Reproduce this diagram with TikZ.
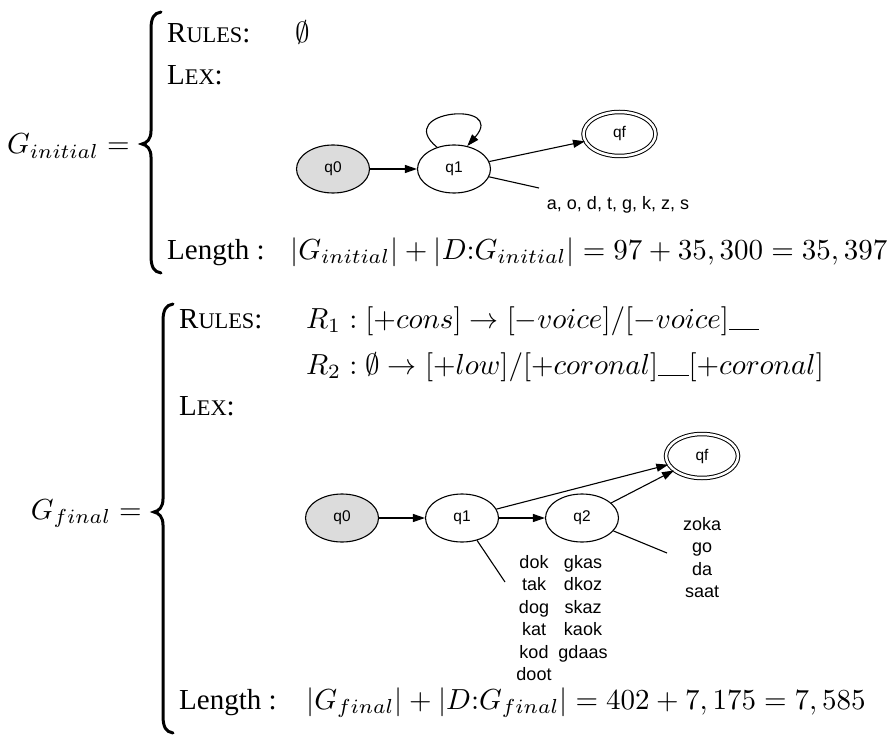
\documentclass[tikz,border=0pt]{standalone}
\usepackage[no-math]{fontspec}
\setmainfont{Liberation Serif}
\newfontfamily\sansf{Liberation Sans}
\usetikzlibrary{arrows.meta,shapes.geometric}
\definecolor{startgray}{HTML}{DCDCDC}
\newcommand\smcap{\fontsize{7.7}{9}\selectfont}
\newcommand\bigt[1]{\scalebox{2.9}{\fontsize{10}{12}\selectfont #1}}
\newcommand\blank{\rule[-0.6pt]{10.5pt}{0.4pt}}
\tikzset{
 txt/.style={anchor=base west, inner sep=0pt},
 lhs/.style={anchor=base east, inner sep=0pt},
 state/.style={ellipse, draw, line width=1.1pt, minimum width=73pt, minimum height=48pt, inner sep=0pt, font=\sansf\fontsize{15.5}{18}\selectfont},
 startstate/.style={state, fill=startgray},
 acceptstate/.style={state, double, double distance=2.5pt, line width=1pt, minimum width=72pt, minimum height=44pt},
 edge/.style={-{Triangle[length=12pt,width=8pt]}, line width=1.1pt},
 labline/.style={line width=1.1pt},
 words/.style={font=\sansf\fontsize{18}{22.5}\selectfont, align=center, inner sep=0pt},
 bracepath/.style={line width=3pt, line cap=round},
}
\begin{document}
\begin{tikzpicture}[x=1pt,y=-1pt]
\useasboundingbox (0,0) rectangle (893,735);
% ---------- block 1 ----------
\node[lhs] (g1) at (130,154) {\bigt{$G_{initial} =$}};
\draw[bracepath] (161,12) .. controls (154,13) and (151,18) .. (151,29) -- (151,131)
  .. controls (151,139) and (147,143) .. (142,144)
  .. controls (147,145) and (151,149) .. (151,157) -- (151,256)
  .. controls (151,267) and (154,272) .. (161,273);
\node[txt] (rules1) at (167,43) {\bigt{R{\smcap ULES}:}};
\node[txt] (empty1) at (295,43) {\bigt{$\emptyset$}};
\node[txt] (lex1) at (167,85) {\bigt{L{\smcap EX}:}};
\node[txt] (len1) at (167,259) {\bigt{Length :}};
\node[txt] (eq1) at (290,259) {\bigt{$|G_{initial}| + |D{:}G_{initial}| = 97 + 35,300 = 35,397$}};
% automaton 1
\node[startstate] (a0) at (333,169) {q0};
\node[state] (a1) at (454,169) {q1};
\node[acceptstate] (af) at (619.5,134) {qf};
\draw[edge] (a0) -- (a1);
\draw[edge] (a1) -- (af);
\draw[edge] (a1.128) .. controls (392,110) and (508,100) .. (a1.60);
\coordinate (a1l) at (539,188);
\draw[labline] (a1) -- (a1l);
\node[words, anchor=base] (w0) at (618,210) {a, o, d, t, g, k, z, s};
% ---------- block 2 ----------
\node[lhs] (g2) at (142,519) {\bigt{$G_{final} =$}};
\draw[bracepath] (173,304) .. controls (166,305) and (163,310) .. (163,321) -- (163,499)
  .. controls (163,507) and (159,511) .. (154,512)
  .. controls (159,513) and (163,517) .. (163,525) -- (163,716)
  .. controls (163,727) and (166,732) .. (173,733);
\node[txt] (rules2) at (179,328) {\bigt{R{\smcap ULES}:}};
\node[txt] (r1) at (306,328) {\bigt{$R_1 : [+cons] \rightarrow [-voice]/[-voice]\blank$}};
\node[txt] (r2) at (306,374) {\bigt{$R_2 : \emptyset \rightarrow [+low]/[+coronal]\blank[+coronal]$}};
\node[txt] (lex2) at (179,415) {\bigt{L{\smcap EX}:}};
\node[txt] (len2) at (179,709) {\bigt{Length :}};
\node[txt] (eq2) at (306,709) {\bigt{$|G_{final}| + |D{:}G_{final}| = 402 + 7,175 = 7,585$}};
% automaton 2
\node[startstate] (b0) at (342,518) {q0};
\node[state] (b1) at (462,518) {q1};
\node[state] (b2) at (582,518) {q2};
\node[acceptstate] (bf) at (702,456) {qf};
\draw[edge] (b0) -- (b1);
\draw[edge] (b1) -- (b2);
\draw[edge] (b1) -- (bf);
\draw[edge] (b2) -- (bf);
\coordinate (b1l) at (505,582);
\coordinate (b2l) at (667,553);
\draw[labline] (b1) -- (b1l);
\draw[labline] (b2) -- (b2l);
\node[words, anchor=north] (w1) at (534,555) {dok\\tak\\dog\\kat\\kod\\doot};
\node[words, anchor=north] (w2) at (583,555) {gkas\\dkoz\\skaz\\kaok\\gdaas};
\node[words, anchor=north] (w3) at (702,517) {zoka\\go\\da\\saat};
\end{tikzpicture}
\end{document}
